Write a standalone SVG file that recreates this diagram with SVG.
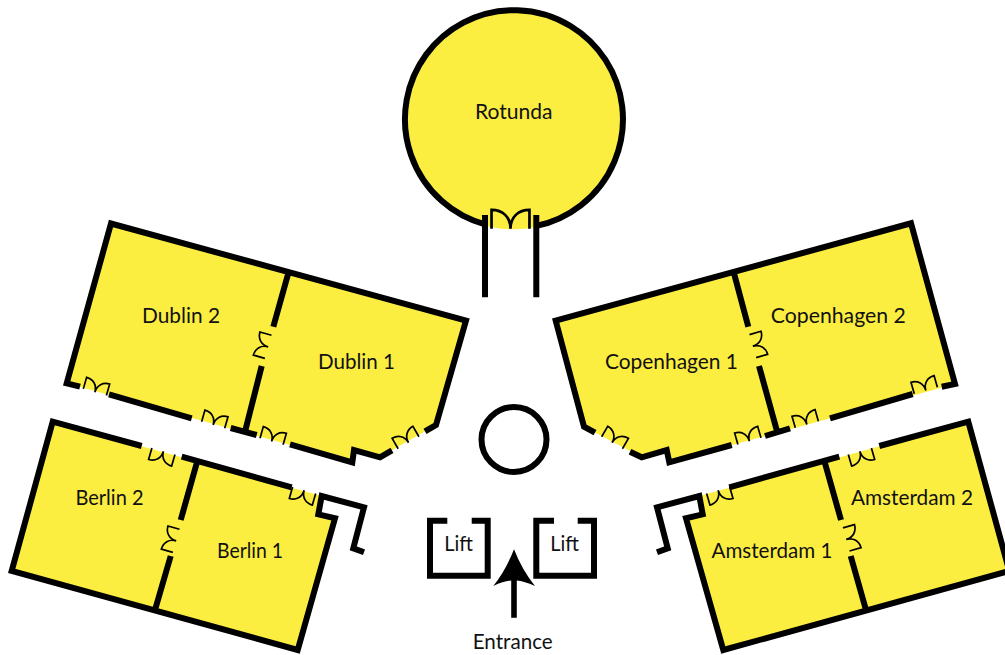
<svg xmlns="http://www.w3.org/2000/svg" xmlns:xlink="http://www.w3.org/1999/xlink" width="1005" height="655" viewBox="0 0 1005 655">
<style>
.f{fill:#fcee41;stroke:none}
.w{fill:none;stroke:#000;stroke-width:6;stroke-linejoin:miter;stroke-miterlimit:10}
.d{fill:none;stroke:#000;stroke-width:1.7;stroke-linejoin:miter}
text{font-family:"Lato","Noto Sans","Liberation Sans",sans-serif;font-size:21px;text-anchor:middle;fill:#111}
</style>
<defs>
<path id="door" class="d" d="M-12,0.5V-11.5C-5,-11.5 0,-7 0,0.5C0,-7 5,-11.5 12,-11.5V0.5"/>
</defs>
<rect width="1005" height="655" fill="#fff"/>
<g id="rotunda">
<circle class="f" cx="513.8" cy="119.3" r="110"/>
<path class="w" d="M485,224.3A109,109 0 1 1 536.3,225.9"/>
<path class="w" d="M485,215V297.3M536.3,215V297.3"/>
<use xlink:href="#door" href="#door" transform="translate(510.5,228) scale(1.58)" style="stroke-width:1.1"/>
<text x="513.7" y="119" textLength="77.5" lengthAdjust="spacingAndGlyphs">Rotunda</text>
</g>
<g id="dublin">
<polygon class="f" points="111,223.5 466,320.7 436,425 380,457.3 354,450 352.3,462.3 66.7,383.3"/>
<path class="w" d="M425,431.4L436,425L466,320.7L111,223.5L66.7,383.3L80,386.7M109,394.3L191.7,418.3M230.7,428L256.7,435M290,444.3L352.3,462.3L354,450L380,457.3L392,450.4M288.3,273.3L273.3,326.7M261.7,366L245,431.7"/>
<use xlink:href="#door" href="#door" transform="translate(95,391.7) rotate(16)"/>
<use xlink:href="#door" href="#door" transform="translate(213.3,424.5) rotate(16)"/>
<use xlink:href="#door" href="#door" transform="translate(271.7,441) rotate(16)"/>
<use xlink:href="#door" href="#door" transform="translate(408.3,442.3) rotate(-30)"/>
<use xlink:href="#door" href="#door" transform="translate(267.7,346.7) rotate(-74)"/>
<text x="181" y="323" textLength="78" lengthAdjust="spacingAndGlyphs">Dublin 2</text>
<text x="356.5" y="369" textLength="77" lengthAdjust="spacingAndGlyphs">Dublin 1</text>
</g>
<g id="berlin">
<polygon class="f" points="52.7,421.7 321.7,496 318.3,514.3 335,518.3 297.7,650 11.7,571"/>
<path class="w" d="M141.7,446L52.7,421.7L11.7,571L297.7,650L335,518.3L318.3,514.3L321.7,496L364,507.3L353.3,548.3L364,552.3M181.7,456.7L291.7,487.3M196.7,463.3L180.7,520M170.7,556L155,610"/>
<use xlink:href="#door" href="#door" transform="translate(163.3,451.7) rotate(196)"/>
<use xlink:href="#door" href="#door" transform="translate(304,490.7) rotate(196)"/>
<use xlink:href="#door" href="#door" transform="translate(175.7,540.7) rotate(-74)"/>
<text x="109.5" y="505" textLength="68" lengthAdjust="spacingAndGlyphs">Berlin 2</text>
<text x="250" y="558" textLength="66" lengthAdjust="spacingAndGlyphs">Berlin 1</text>
</g>
<g id="copenhagen">
<polygon class="f" points="911,223.3 555.7,320.7 584,426.7 641.7,457.3 666.7,450 669.3,462.3 955,384"/>
<path class="w" d="M595,432.7L584,426.7L555.7,320.7L911,223.3L955,384L941.7,386.7M912.7,394L830,418.3M790,428.3L765,436M731.7,445L669.3,462.3L666.7,450L641.7,457.3L630,451.7M734,273.3L748.3,326.7M759,366L776.7,430"/>
<use xlink:href="#door" href="#door" transform="translate(925.7,390) rotate(-16)"/>
<use xlink:href="#door" href="#door" transform="translate(806.7,424) rotate(-16)"/>
<use xlink:href="#door" href="#door" transform="translate(749.3,440.7) rotate(-16)"/>
<use xlink:href="#door" href="#door" transform="translate(612.3,442.3) rotate(30)"/>
<use xlink:href="#door" href="#door" transform="translate(753.3,346) rotate(74)"/>
<text x="671.5" y="369" textLength="133" lengthAdjust="spacingAndGlyphs">Copenhagen 1</text>
<text x="838.3" y="323" textLength="135" lengthAdjust="spacingAndGlyphs">Copenhagen 2</text>
</g>
<g id="amsterdam">
<polygon class="f" points="968.3,421.7 699.3,496 702.7,514.3 686,518.3 723.3,650 1009.3,571"/>
<path class="w" d="M879.3,446L968.3,421.7L1009.3,571L723.3,650L686,518.3L702.7,514.3L699.3,496L657,507.3L667.7,548.3L657,552.3M839.3,456.7L729.3,487.3M825,463.3L841,520M850.7,556L866,610"/>
<use xlink:href="#door" href="#door" transform="translate(860,451.7) rotate(164)"/>
<use xlink:href="#door" href="#door" transform="translate(718.3,490.7) rotate(164)"/>
<use xlink:href="#door" href="#door" transform="translate(846.7,539.3) rotate(74)"/>
<text x="772" y="558" textLength="121" lengthAdjust="spacingAndGlyphs">Amsterdam 1</text>
<text x="912" y="505" textLength="122" lengthAdjust="spacingAndGlyphs">Amsterdam 2</text>
</g>
<g id="centre">
<circle cx="514" cy="439.5" r="32.5" fill="none" stroke="#000" stroke-width="6"/>
</g>
<g id="lift-left">
<path class="w" d="M447.3,520.7H430V575.7H487.7V520.7H471.7"/>
<text x="458.5" y="550.7" textLength="28.7" lengthAdjust="spacingAndGlyphs">Lift</text>
</g>
<g id="lift-right">
<path class="w" d="M554,520.7H536.3V575.7H594V520.7H577.7"/>
<text x="564.5" y="550.7" textLength="28.7" lengthAdjust="spacingAndGlyphs">Lift</text>
</g>
<g id="entrance">
<path d="M514,549.3Q522,570 535,586Q524,581 516.8,580.5V617.7H511.2V580.5Q504,581 493.3,586Q506,570 514,549.3Z" fill="#000"/>
<text x="512.7" y="649" textLength="80" lengthAdjust="spacingAndGlyphs">Entrance</text>
</g>
</svg>
